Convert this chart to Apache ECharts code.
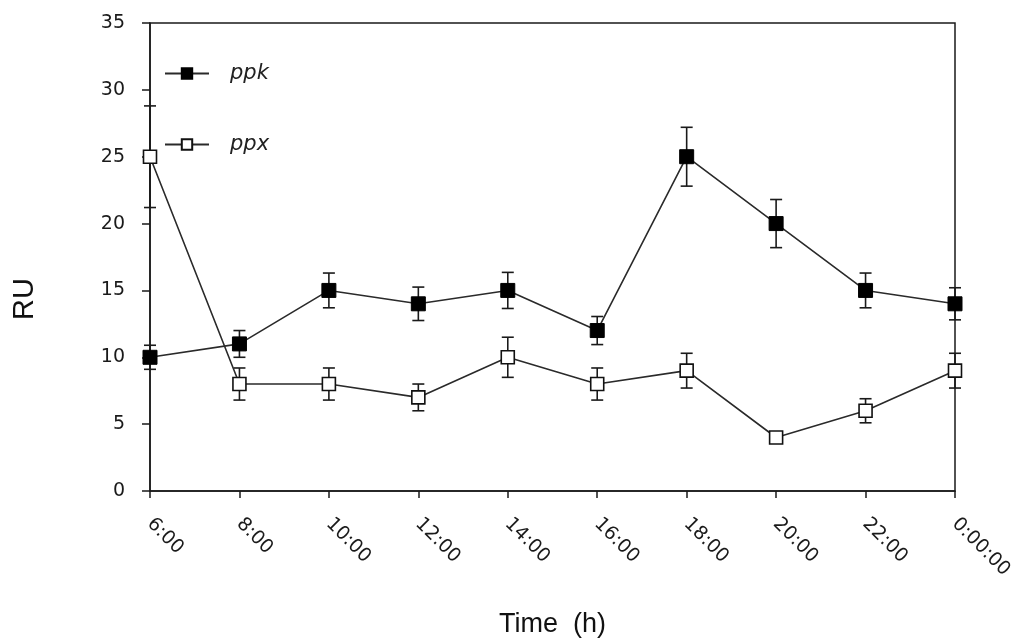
<!DOCTYPE html>
<html>
<head>
<meta charset="utf-8">
<script src="https://cdn.jsdelivr.net/npm/echarts@6/dist/echarts.min.js"></script>
<style>html,body{margin:0;padding:0;background:#fff}#c{width:1021px;height:644px}</style>
</head>
<body>
<div id="c"></div>
<script>
var categories = ['6:00','8:00','10:00','12:00','14:00','16:00','18:00','20:00','22:00','0:00:00'];
var ppkValues = [10, 11, 15, 14, 15, 12, 25, 20, 15, 14];
var ppkErr    = [0.9, 1.0, 1.3, 1.25, 1.35, 1.05, 2.2, 1.8, 1.3, 1.2];
var ppxValues = [25, 8, 8, 7, 10, 8, 9, 4, 6, 9];
var ppxErr    = [3.8, 1.2, 1.2, 1.0, 1.5, 1.2, 1.3, 0.3, 0.9, 1.3];
var yTicks = [0, 5, 10, 15, 20, 25, 30, 35];

function errData(vals, errs) {
  return vals.map(function (v, i) { return [i, v - errs[i], v + errs[i]]; });
}
function renderErr(params, api) {
  var x = api.value(0);
  var lo = api.coord([x, api.value(1)]);
  var hi = api.coord([x, api.value(2)]);
  var w = 6;
  var st = { stroke: '#1a1a1a', lineWidth: 1.6 };
  return {
    type: 'group',
    children: [
      { type: 'line', shape: { x1: hi[0], y1: hi[1], x2: lo[0], y2: lo[1] }, style: st },
      { type: 'line', shape: { x1: hi[0] - w, y1: hi[1], x2: hi[0] + w, y2: hi[1] }, style: st },
      { type: 'line', shape: { x1: lo[0] - w, y1: lo[1], x2: lo[0] + w, y2: lo[1] }, style: st }
    ]
  };
}

var chart = echarts.init(document.getElementById('c'), null, { renderer: 'canvas' });
chart.setOption({
  animation: false,
  backgroundColor: '#fff',
  grid: { left: 150, right: 66, top: 23, bottom: 153, show: true, borderColor: '#1a1a1a', borderWidth: 1.5, containLabel: false },
  legend: {
    orient: 'vertical', left: 159, top: 58, itemGap: 50,
    itemWidth: 44, itemHeight: 13,
    data: ['ppk', 'ppx'],
    textStyle: { fontFamily: 'DejaVu Sans', fontStyle: 'italic', fontSize: 21, color: '#222', padding: [0, 0, 0, 16] }
  },
  xAxis: {
    type: 'category', data: categories, boundaryGap: false,
    name: 'Time  (h)', nameLocation: 'middle', nameGap: 120,
    nameTextStyle: { fontFamily: 'Liberation Sans', fontSize: 27, color: '#111' },
    axisLine: { lineStyle: { color: '#1a1a1a', width: 1.5 } },
    axisTick: { alignWithLabel: true, length: 7, lineStyle: { color: '#1a1a1a', width: 1.5 } },
    axisLabel: { rotate: -45, margin: 30, fontFamily: 'DejaVu Sans', fontSize: 19, color: '#1a1a1a', interval: 0 },
    splitLine: { show: false }
  },
  yAxis: {
    type: 'value', min: yTicks[0], max: yTicks[yTicks.length - 1], interval: 5,
    name: 'RU', nameLocation: 'middle', nameGap: 111, nameRotate: 90,
    nameTextStyle: { fontFamily: 'Liberation Sans', fontSize: 29, color: '#111', padding: [0, 84, 0, 0] },
    axisLine: { show: true, lineStyle: { color: '#1a1a1a', width: 1.5 } },
    axisTick: { show: true, inside: false, length: 8, lineStyle: { color: '#1a1a1a', width: 1.5 } },
    axisLabel: { margin: 25, fontFamily: 'DejaVu Sans', fontSize: 19, color: '#1a1a1a' },
    splitLine: { show: false }
  },
  series: [
    { name: 'ppkErr', type: 'custom', renderItem: renderErr, data: errData(ppkValues, ppkErr), z: 1, silent: true },
    { name: 'ppxErr', type: 'custom', renderItem: renderErr, data: errData(ppxValues, ppxErr), z: 1, silent: true },
    {
      name: 'ppk', type: 'line', data: ppkValues, z: 3,
      symbol: 'rect', symbolSize: 14,
      lineStyle: { color: '#2a2a2a', width: 1.6 },
      itemStyle: { color: '#000', borderColor: '#000', borderWidth: 1 }
    },
    {
      name: 'ppx', type: 'line', data: ppxValues, z: 3,
      symbol: 'rect', symbolSize: 13,
      lineStyle: { color: '#2a2a2a', width: 1.6 },
      itemStyle: { color: '#fff', borderColor: '#111', borderWidth: 1.6 }
    }
  ]
});
</script>
</body>
</html>
